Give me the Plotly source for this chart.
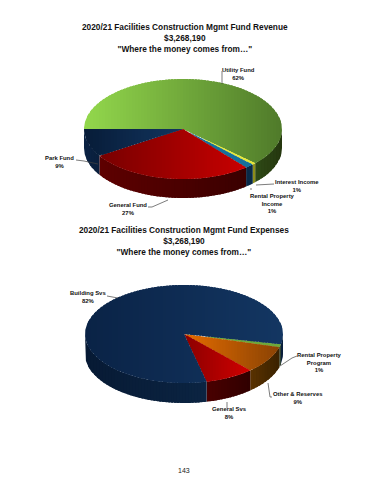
import numpy as np
import plotly.graph_objects as go

# ---- data ----
revenue_names = ["Utility Fund", "Interest Income", "Rental Property Income", "General Fund", "Park Fund"]
revenue_values = [62.0, 0.6, 1.4, 27.0, 9.0]
expense_names = ["Rental Property Program", "Other & Reserves", "General Svs", "Building Svs"]
expense_values = [1.0, 9.0, 8.0, 82.0]
title_top = "<b>2020/21 Facilities Construction Mgmt Fund Revenue<br>$3,268,190<br>\"Where the money comes from…\"</b>"
title_bottom = "<b>2020/21 Facilities Construction Mgmt Fund Expenses<br>$3,268,190<br>\"Where the money comes from…\"</b>"
revenue_labels = ["Utility Fund<br>62%", "Interest Income<br>1%", "Rental Property<br>Income<br>1%", "General Fund<br>27%", "Park Fund<br>9%"]
expense_labels = ["Rental Property<br>Program<br>1%", "Other & Reserves<br>9%", "General Svs<br>8%", "Building Svs<br>82%"]
page_number = "143"

# ---- styles: (left colour, right colour) for top face and side ----
revenue_top = [("#93d84c", "#4f7a2a"), ("#e8e83a", "#e8e83a"), ("#16709c", "#16709c"), ("#780000", "#c80000"), ("#071c38", "#12355f")]
revenue_side = [("#2f4a16", "#24360f"), ("#8d8d1a", "#8d8d1a"), ("#0a2a48", "#0a2a48"), ("#5e0000", "#3a0000"), ("#0a2244", "#0a1f3c")]
expense_top = [("#6ea83a", "#6ea83a"), ("#e56c00", "#8a4304"), ("#8c0000", "#d00000"), ("#0a2346", "#133662")]
expense_side = [("#14280e", "#14280e"), ("#5a3200", "#3a2200"), ("#4a0000", "#300000"), ("#071a34", "#0b2442")]


def hex_rgb(c):
    return np.array([int(c[i:i + 2], 16) for i in (1, 3, 5)], float)


def mix(a, b, t):
    v = hex_rgb(a) * (1 - t) + hex_rgb(b) * t
    return "rgb(%d,%d,%d)" % tuple(v.round())


def clip(poly, lo, hi):
    def cut(pts, x0, keep_greater):
        out = []
        n = len(pts)
        for i in range(n):
            p, q = pts[i], pts[(i + 1) % n]
            pin = p[0] >= x0 if keep_greater else p[0] <= x0
            qin = q[0] >= x0 if keep_greater else q[0] <= x0
            if pin:
                out.append(p)
            if pin != qin:
                t = (x0 - p[0]) / (q[0] - p[0])
                out.append((x0, p[1] + t * (q[1] - p[1])))
        return out
    pts = cut(poly, lo, True)
    return cut(pts, hi, False) if pts else pts


fig = go.Figure()


def add_gradient(poly, left, right, step=3.0):
    xs = [p[0] for p in poly]
    lo, hi = min(xs), max(xs)
    n = max(1, int(np.ceil((hi - lo) / step)))
    edges = np.linspace(lo, hi, n + 1)
    for i in range(n):
        piece = clip(poly, edges[i], hi if i == n - 1 else edges[i + 1] + 2.0)
        if len(piece) < 3:
            continue
        col = mix(left, right, (i + 0.5) / n)
        fig.add_trace(go.Scatter(x=[p[0] for p in piece] + [piece[0][0]],
                                 y=[p[1] for p in piece] + [piece[0][1]],
                                 mode="lines", fill="toself", fillcolor=col,
                                 line=dict(width=0),
                                 hoverinfo="skip", showlegend=False))


def draw_pie(values, tops, sides, start, cx, cy, rx, ry, depth):
    total = sum(values)
    a = start
    spans = []
    for v in values:
        b = a - v / total * 360.0
        spans.append((a, b))
        a = b

    def point(deg, dy=0.0):
        r = np.radians(deg)
        return (cx + rx * np.cos(r), cy - ry * np.sin(r) + dy)

    for (a, b), col in zip(spans, sides):
        for k in (0, -360, 360):
            lo, hi = max(b + k, -180), min(a + k, 0)
            if hi > lo:
                ang = np.linspace(hi, lo, 80)
                poly = [point(t) for t in ang] + [point(t, depth) for t in ang[::-1]]
                add_gradient(poly, col[0], col[1])
    for (a, b), col in zip(spans, tops):
        ang = np.linspace(a, b, max(4, int(abs(a - b) * 1.5)))
        poly = [(cx, cy)] + [point(t) for t in ang]
        add_gradient(poly, col[0], col[1])


draw_pie(revenue_values, revenue_top, revenue_side, 180.0, 183, 129, 99, 50, 19)
draw_pie(expense_values, expense_top, expense_side, -12.0, 184, 334, 99, 49, 20)

# ---- leader lines ----
leaders = [
    [(222, 84), (222, 71)],
    [(256, 185), (274, 184)],
    [(251, 188), (251, 190)],
    [(148, 207), (152, 207), (168, 200)],
    [(76, 160), (84, 161), (98, 164)],
    [(107, 296), (118, 298)],
    [(280, 366), (292, 358), (297, 356)],
    [(268, 383), (270, 397), (272, 397)],
    [(227, 402), (227, 408)],
]
for seg in leaders:
    fig.add_trace(go.Scatter(x=[p[0] for p in seg], y=[p[1] for p in seg], mode="lines",
                             line=dict(color="#444444", width=0.7),
                             hoverinfo="skip", showlegend=False))


def note(x, y, text, size=5.9, anchor="center"):
    fig.add_annotation(x=x, y=y, text=text, showarrow=False, xanchor=anchor, yanchor="middle",
                       align="center", font=dict(family="Liberation Sans", size=size, color="#111111"))


note(184.5, 38, title_top, 8.3)
note(184, 241, title_bottom, 8.3)
note(238, 74, "<b>%s</b>" % revenue_labels[0])
note(297, 186, "<b>%s</b>" % revenue_labels[1])
note(272, 203, "<b>%s</b>" % revenue_labels[2])
note(128, 209, "<b>%s</b>" % revenue_labels[3])
note(59, 162, "<b>%s</b>" % revenue_labels[4])
note(319, 362, "<b>%s</b>" % expense_labels[0])
note(298, 398, "<b>%s</b>" % expense_labels[1])
note(229, 412.5, "<b>%s</b>" % expense_labels[2])
note(88, 297, "<b>%s</b>" % expense_labels[3])
fig.add_annotation(x=184, y=470, text=page_number, showarrow=False,
                   font=dict(family="Liberation Sans", size=7, color="#222222"))

fig.update_layout(width=370, height=480, margin=dict(l=0, r=0, t=0, b=0),
                  paper_bgcolor="white", plot_bgcolor="white", showlegend=False,
                  xaxis=dict(range=[0, 370], visible=False, fixedrange=True),
                  yaxis=dict(range=[480, 0], visible=False, fixedrange=True))
fig.write_html("out.html", config={"displayModeBar": False}, default_width="370px", default_height="480px")

# drop the browser's default page margin so the figure fills the window
with open("out.html", encoding="utf-8") as fh:
    page = fh.read()
page = page.replace("<body>", '<body style="margin:0">', 1)
with open("out.html", "w", encoding="utf-8") as fh:
    fh.write(page)
